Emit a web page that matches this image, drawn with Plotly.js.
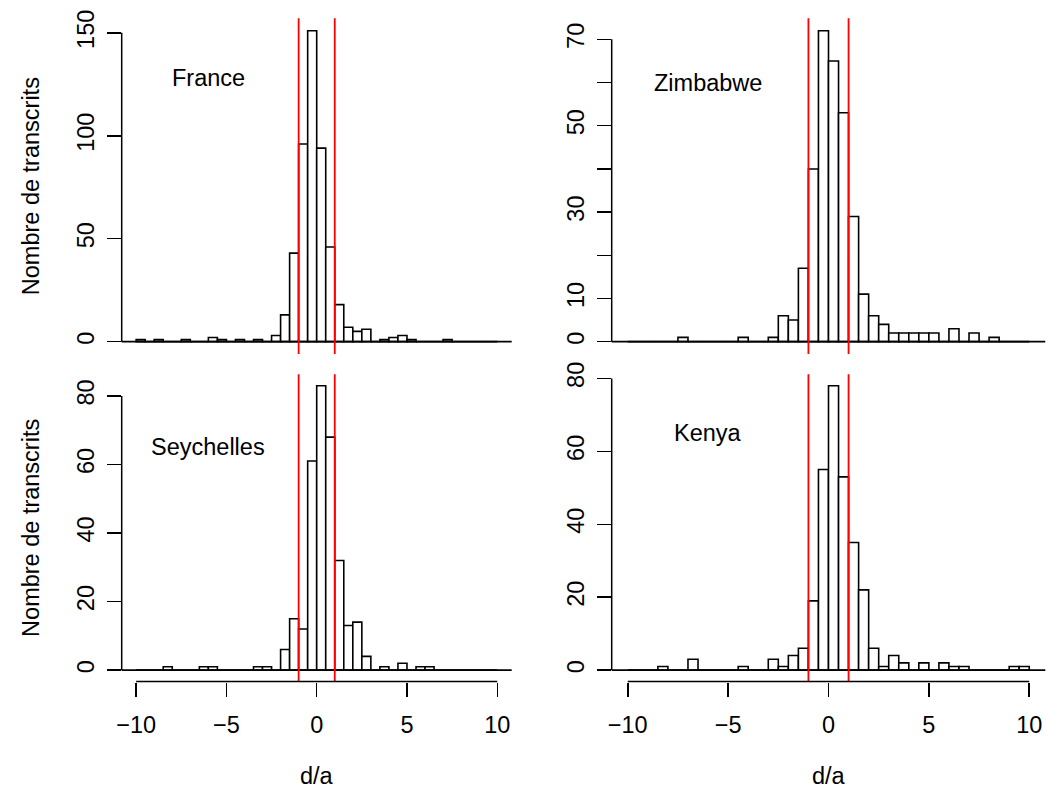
<!DOCTYPE html>
<html>
<head>
<meta charset="utf-8">
<script src="https://cdn.plot.ly/plotly-3.0.1.min.js"></script>
<style>html,body{margin:0;padding:0;background:#fff;}#chart{width:1046px;height:796px;}</style>
</head>
<body>
<div id="chart"></div>
<script>
// ---- data (histogram counts, bins of width 0.5 from -10 to 10) ----
const binStart = -10;
const binWidth = 0.5;
const countries = ["France", "Zimbabwe", "Seychelles", "Kenya"];
const france     = [1,0,1,0,0,1,0,0,2,1, 0,1,0,1,0,3,13,43,96,151, 94,46,18,7,5,6,0,1,2,3, 1,0,0,0,1,0,0,0,0,0];
const zimbabwe   = [0,0,0,0,0,1,0,0,0,0, 0,1,0,0,1,6,5,17,40,72, 65,53,29,11,6,4,2,2,2,2, 2,0,3,0,2,0,1,0,0,0];
const seychelles = [0,0,0,1,0,0,0,1,1,0, 0,0,0,1,1,0,6,15,12,61, 83,68,32,13,14,4,0,1,0,2, 0,1,1,0,0,0,0,0,0,0];
const kenya      = [0,0,0,1,0,0,3,0,0,0, 0,1,0,0,3,1,4,6,19,55, 78,53,35,22,6,1,4,2,0,2, 0,2,1,1,0,0,0,0,1,1];
const xTicks = [-10, -5, 0, 5, 10];
const yTicksFrance = [0, 50, 100, 150];
const yTicksZimbabwe = [0, 10, 20, 30, 40, 50, 60, 70];
const yTextZimbabwe = ["0", "10", "", "30", "", "50", "", "70"];
const yTicksSeychelles = [0, 20, 40, 60, 80];
const yTicksKenya = [0, 20, 40, 60, 80];
const thresholds = [-1, 1];
const labelPos = [[-6, 128], [-6, 60], [-6, 65], [-6, 65]];
const yLabel = "Nombre de transcrits";
const xLabel = "d/a";

// ---- layout geometry ----
const W = 1046, H = 796;
const FONT = "Liberation Sans, Arial, Helvetica, sans-serif";
const FS = 23.5;
const colX = [[121.7, 511.7], [611.7, 1045.3]];
const rowY = [[18.3, 354.1], [374.3, 681.5]];
const xd = c => [colX[c][0] / W, colX[c][1] / W];
const yd = r => [1 - rowY[r][1] / H, 1 - rowY[r][0] / H];

const series = [france, zimbabwe, seychelles, kenya];
const yTicks = [yTicksFrance, yTicksZimbabwe, yTicksSeychelles, yTicksKenya];
const yTexts = [null, yTextZimbabwe, null, null];
const centers = france.map((_, i) => binStart + (i + 0.5) * binWidth);
const xRange = [-10 - 0.04 * 20, 10 + 0.04 * 20];

const traces = [];
const layout = {
  width: W, height: H,
  margin: {l: 0, r: 0, t: 0, b: 0, pad: 0},
  paper_bgcolor: "#fff", plot_bgcolor: "rgba(0,0,0,0)",
  showlegend: false, bargap: 0,
  font: {family: FONT, size: FS, color: "#000"},
  shapes: [], annotations: []
};

series.forEach((counts, k) => {
  const r = Math.floor(k / 2), c = k % 2;
  const n = k + 1;
  const xa = "x" + (n === 1 ? "" : n), ya = "y" + (n === 1 ? "" : n);
  const xkey = "xaxis" + (n === 1 ? "" : n), ykey = "yaxis" + (n === 1 ? "" : n);
  traces.push({
    type: "bar", x: centers, y: counts, width: binWidth,
    xaxis: xa, yaxis: ya,
    marker: {color: "#fff", line: {color: "#000", width: 1.6}},
    hoverinfo: "x+y"
  });
  const maxC = Math.max(...counts);
  const bottom = r === 1;
  layout[xkey] = {
    domain: xd(c), anchor: ya, range: xRange, fixedrange: true,
    showgrid: false, zeroline: false, showline: false,
    showticklabels: bottom, ticks: bottom ? "outside" : "",
    tickvals: xTicks, ticklen: 14, tickwidth: 1.5, tickcolor: "#000",
    ticklabelstandoff: 8,
    tickfont: {family: FONT, size: FS, color: "#000"}
  };
  const yax = {
    domain: yd(r), anchor: xa, range: [-0.04 * maxC, 1.04 * maxC], fixedrange: true,
    showgrid: false, zeroline: false, showline: false,
    ticks: "outside", tickvals: yTicks[k], ticklen: 14, tickwidth: 1.5, tickcolor: "#000",
    ticklabelstandoff: 3,
    tickangle: -90, tickfont: {family: FONT, size: FS, color: "#000"}
  };
  if (yTexts[k]) yax.ticktext = yTexts[k];
  layout[ykey] = yax;

  // y axis line from first to last tick
  const yt = yTicks[k];
  layout.shapes.push({type: "line", xref: xa + " domain", yref: ya, x0: 0, x1: 0,
    y0: yt[0], y1: yt[yt.length - 1], line: {color: "#000", width: 1.5}});
  // histogram baseline across plot region
  layout.shapes.push({type: "line", xref: xa + " domain", yref: ya, x0: 0, x1: 1,
    y0: 0, y1: 0, line: {color: "#000", width: 1.6}});
  // threshold lines
  thresholds.forEach(t => layout.shapes.push({type: "line", xref: xa, yref: ya + " domain",
    x0: t, x1: t, y0: 0, y1: 1, line: {color: "#ff0000", width: 1.8}}));
  // x axis line for bottom row
  if (bottom) {
    layout.shapes.push({type: "line", xref: xa, yref: ya + " domain",
      x0: xTicks[0], x1: xTicks[xTicks.length - 1], y0: 0, y1: 0, line: {color: "#000", width: 1.5}});
    layout.annotations.push({text: xLabel, xref: "paper", yref: "paper",
      x: (colX[c][0] + colX[c][1]) / 2 / W, y: 1 - 776 / H, showarrow: false,
      xanchor: "center", yanchor: "middle", font: {family: FONT, size: FS, color: "#000"}});
  }
  if (c === 0) {
    layout.annotations.push({text: yLabel, xref: "paper", yref: "paper", textangle: -90,
      x: 31 / W, y: 1 - ((rowY[r][0] + rowY[r][1]) / 2) / H, showarrow: false,
      xanchor: "center", yanchor: "middle", font: {family: FONT, size: FS, color: "#000"}});
  }
  // country label
  layout.annotations.push({text: countries[k], xref: xa, yref: ya,
    x: labelPos[k][0], y: labelPos[k][1], showarrow: false,
    xanchor: "center", yanchor: "middle", font: {family: FONT, size: FS, color: "#000"}});
});

Plotly.newPlot("chart", traces, layout, {staticPlot: true, displayModeBar: false});
</script>
</body>
</html>
